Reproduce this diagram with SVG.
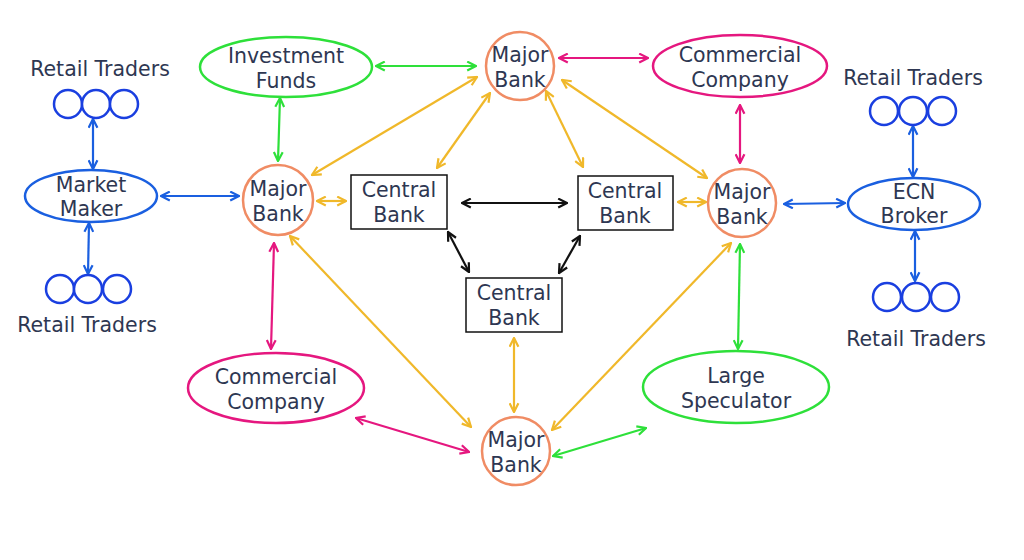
<svg xmlns="http://www.w3.org/2000/svg" width="1024" height="560" viewBox="0 0 1024 560">
<style>
text{font-family:"DejaVu Sans","Open Sans",sans-serif;font-size:20.5px;fill:#2e3752;text-anchor:middle}
.mb{fill:#fff;stroke:#f08c64;stroke-width:2.5}
.cb{fill:#fff;stroke:#111;stroke-width:1.5}
.g{fill:#fff;stroke:#2ee03a;stroke-width:2.5}
.p{fill:#fff;stroke:#e5177f;stroke-width:2.5}
.b{fill:#fff;stroke:#1a5fe0;stroke-width:2.5}
.rc{fill:#fff;stroke:#1a3fe0;stroke-width:2.5}
#conn line{stroke-width:2.2}
.ay{stroke:#f0b82a;marker-start:url(#my);marker-end:url(#my)}
.ap{stroke:#e5177f;marker-start:url(#mp);marker-end:url(#mp)}
.ag{stroke:#2ee03a;marker-start:url(#mg);marker-end:url(#mg)}
.ab{stroke:#1a5fe0;marker-start:url(#mb);marker-end:url(#mb)}
.ak{stroke:#111;marker-start:url(#mk);marker-end:url(#mk)}
</style>
<defs>
<marker id="my" viewBox="0 0 10 10" refX="9" refY="5" markerWidth="5" markerHeight="5" orient="auto-start-reverse"><path d="M1,1 L9,5 L1,9" fill="none" stroke="#f0b82a" stroke-width="2"/></marker>
<marker id="mp" viewBox="0 0 10 10" refX="9" refY="5" markerWidth="5" markerHeight="5" orient="auto-start-reverse"><path d="M1,1 L9,5 L1,9" fill="none" stroke="#e5177f" stroke-width="2"/></marker>
<marker id="mg" viewBox="0 0 10 10" refX="9" refY="5" markerWidth="5" markerHeight="5" orient="auto-start-reverse"><path d="M1,1 L9,5 L1,9" fill="none" stroke="#2ee03a" stroke-width="2"/></marker>
<marker id="mb" viewBox="0 0 10 10" refX="9" refY="5" markerWidth="5" markerHeight="5" orient="auto-start-reverse"><path d="M1,1 L9,5 L1,9" fill="none" stroke="#1a5fe0" stroke-width="2"/></marker>
<marker id="mk" viewBox="0 0 10 10" refX="9" refY="5" markerWidth="5" markerHeight="5" orient="auto-start-reverse"><path d="M1,1 L9,5 L1,9" fill="none" stroke="#111" stroke-width="2"/></marker>
</defs>
<rect width="1024" height="560" fill="#fff"/>
<g id="conn">
<line class="ab" x1="93" y1="119" x2="93" y2="169"/>
<line class="ab" x1="89" y1="223" x2="88" y2="274"/>
<line class="ab" x1="161" y1="196" x2="239" y2="196"/>
<line class="ab" x1="784" y1="204" x2="845" y2="203"/>
<line class="ab" x1="913" y1="126" x2="913" y2="177"/>
<line class="ab" x1="915" y1="231" x2="915" y2="281"/>
<line class="ag" x1="376" y1="66" x2="476" y2="66"/>
<line class="ag" x1="280" y1="98" x2="278" y2="161"/>
<line class="ag" x1="740" y1="244" x2="738" y2="349"/>
<line class="ag" x1="553" y1="456" x2="646" y2="428"/>
<line class="ap" x1="559" y1="58" x2="648" y2="58"/>
<line class="ap" x1="740" y1="105" x2="740" y2="163"/>
<line class="ap" x1="274" y1="243" x2="271" y2="349"/>
<line class="ap" x1="356" y1="418" x2="469" y2="452"/>
<line class="ay" x1="317" y1="201" x2="346" y2="201"/>
<line class="ay" x1="678" y1="202" x2="706" y2="202"/>
<line class="ay" x1="477" y1="77" x2="312" y2="175"/>
<line class="ay" x1="490" y1="93" x2="437" y2="168"/>
<line class="ay" x1="546" y1="91" x2="583" y2="167"/>
<line class="ay" x1="562" y1="80" x2="707" y2="178"/>
<line class="ay" x1="290" y1="236" x2="471" y2="427"/>
<line class="ay" x1="731" y1="243" x2="552" y2="430"/>
<line class="ay" x1="514" y1="338" x2="514" y2="412"/>
<line class="ak" x1="462" y1="203" x2="567" y2="203"/>
<line class="ak" x1="448" y1="232" x2="469" y2="272"/>
<line class="ak" x1="580" y1="236" x2="559" y2="273"/>
</g>
<g id="mb-top"><circle class="mb" cx="520" cy="66" r="34"/><text x="520" y="62">Major</text><text x="520" y="87">Bank</text></g>
<g id="mb-left"><circle class="mb" cx="278" cy="200" r="35"/><text x="278" y="196">Major</text><text x="278" y="221">Bank</text></g>
<g id="mb-right"><circle class="mb" cx="742" cy="203" r="34"/><text x="742" y="199">Major</text><text x="742" y="224">Bank</text></g>
<g id="mb-bottom"><circle class="mb" cx="516" cy="451" r="34"/><text x="516" y="447">Major</text><text x="516" y="472">Bank</text></g>
<g id="cb-left"><rect class="cb" x="351" y="175" width="96" height="54"/><text x="399" y="197">Central</text><text x="399" y="222">Bank</text></g>
<g id="cb-right"><rect class="cb" x="578" y="176" width="95" height="54"/><text x="625" y="198">Central</text><text x="625" y="223">Bank</text></g>
<g id="cb-bottom"><rect class="cb" x="466" y="278" width="96" height="54"/><text x="514" y="300">Central</text><text x="514" y="325">Bank</text></g>
<g id="investment-funds"><ellipse class="g" cx="286" cy="67" rx="86" ry="30"/><text x="286" y="63">Investment</text><text x="286" y="88">Funds</text></g>
<g id="commercial-top"><ellipse class="p" cx="740" cy="66" rx="87" ry="31"/><text x="740" y="62">Commercial</text><text x="740" y="87">Company</text></g>
<g id="commercial-bottom"><ellipse class="p" cx="276" cy="388" rx="88" ry="35"/><text x="276" y="384">Commercial</text><text x="276" y="409">Company</text></g>
<g id="large-speculator"><ellipse class="g" cx="736" cy="387" rx="93" ry="36"/><text x="736" y="383">Large</text><text x="736" y="408">Speculator</text></g>
<g id="market-maker"><ellipse class="b" cx="91" cy="196" rx="66" ry="26"/><text x="91" y="192">Market</text><text x="91" y="216">Maker</text></g>
<g id="ecn-broker"><ellipse class="b" cx="914" cy="204" rx="66" ry="26"/><text x="914" y="199">ECN</text><text x="914" y="223">Broker</text></g>
<g id="retail-tl"><text x="100" y="76">Retail Traders</text><circle class="rc" cx="68" cy="104" r="14"/><circle class="rc" cx="96" cy="104" r="14"/><circle class="rc" cx="124" cy="104" r="14"/></g>
<g id="retail-bl"><circle class="rc" cx="60" cy="289" r="14"/><circle class="rc" cx="88" cy="289" r="14"/><circle class="rc" cx="117" cy="289" r="14"/><text x="87" y="332">Retail Traders</text></g>
<g id="retail-tr"><text x="913" y="85">Retail Traders</text><circle class="rc" cx="884" cy="111" r="14"/><circle class="rc" cx="913" cy="111" r="14"/><circle class="rc" cx="942" cy="111" r="14"/></g>
<g id="retail-br"><circle class="rc" cx="887" cy="297" r="14"/><circle class="rc" cx="916" cy="297" r="14"/><circle class="rc" cx="945" cy="297" r="14"/><text x="916" y="346">Retail Traders</text></g>
</svg>
